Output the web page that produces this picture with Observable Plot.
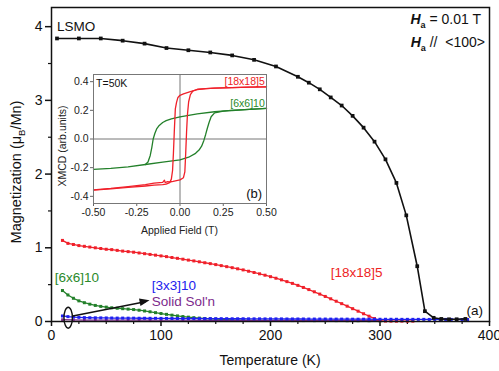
<!DOCTYPE html>
<html><head><meta charset="utf-8">
<script src="https://cdn.jsdelivr.net/npm/d3@7"></script>
<script src="https://cdn.jsdelivr.net/npm/@observablehq/plot@0.6"></script>
<style>
body{margin:0;background:#fff;}
#wrap{position:relative;width:499px;height:371px;}
#wrap svg{position:absolute;left:0;top:0;}
</style></head><body><div id="wrap"></div>
<script>
const FONT = '"Liberation Sans", Arial, Helvetica, sans-serif';

// ---- main panel (a): magnetization vs temperature ----
const xMajor = [0, 100, 200, 300, 400];
const xMinor = [25, 50, 75, 125, 150, 175, 225, 250, 275, 325, 350, 375];
const yMajor = [0, 1, 2, 3, 4];
const yMinor = [0.5, 1.5, 2.5, 3.5];

const lsmo = [[5,3.84],[25,3.84],[45,3.84],[65,3.81],[85,3.77],[105,3.71],[125,3.68],[145,3.65],[165,3.61],[185,3.55],[205,3.46],[225,3.32],[235,3.24],[245,3.15],[255,3.04],[265,2.93],[275,2.79],[285,2.63],[295,2.44],[305,2.20],[315,1.88],[324,1.44],[334,0.75],[341,0.14],[349,0.05],[356,0.035],[363,0.03],[370,0.03],[378,0.035]];

const red18 = [[10,1.10],[15,1.06],[20,1.045],[25,1.03],[30,1.02],[35,1.01],[40,1.00],[45,0.99],[50,0.98],[55,0.975],[60,0.965],[65,0.955],[70,0.948],[75,0.94],[80,0.93],[85,0.92],[90,0.91],[95,0.90],[100,0.89],[105,0.88],[110,0.868],[115,0.857],[120,0.845],[125,0.833],[130,0.822],[135,0.81],[140,0.797],[145,0.785],[150,0.772],[155,0.758],[160,0.744],[165,0.73],[170,0.715],[175,0.70],[180,0.682],[185,0.665],[190,0.647],[195,0.628],[200,0.608],[205,0.587],[210,0.565],[215,0.541],[220,0.517],[225,0.49],[230,0.462],[235,0.433],[240,0.403],[245,0.372],[250,0.34],[255,0.308],[260,0.275],[265,0.242],[270,0.208],[275,0.174],[280,0.14],[285,0.105],[290,0.072],[295,0.04],[300,0.012],[305,0.006],[310,0.005],[315,0.004],[320,0.005],[325,0.004],[330,0.005]];

const green6 = [[10,0.42],[15,0.36],[20,0.315],[25,0.28],[30,0.255],[35,0.235],[40,0.218],[45,0.205],[50,0.195],[55,0.186],[60,0.18],[65,0.174],[70,0.168],[75,0.162],[80,0.153],[85,0.143],[90,0.132],[95,0.12],[100,0.108],[105,0.097],[110,0.086],[115,0.076],[120,0.067],[125,0.059],[130,0.052],[135,0.046],[140,0.041],[145,0.036],[150,0.032],[155,0.028],[160,0.025],[165,0.022],[170,0.02],[175,0.018],[180,0.016],[190,0.015],[200,0.014],[210,0.014],[220,0.013],[230,0.013],[240,0.012],[250,0.012],[260,0.012],[270,0.011],[280,0.011],[290,0.011],[300,0.01]];

const blue3 = [[10,0.075],[15,0.066],[20,0.06],[25,0.056],[30,0.053],[35,0.051],[40,0.05],[45,0.049],[50,0.048],[55,0.047],[60,0.046],[65,0.046],[70,0.045],[75,0.045],[80,0.044],[85,0.044],[90,0.043],[95,0.043],[100,0.042],[105,0.042],[110,0.041],[115,0.041],[120,0.04],[125,0.04],[130,0.04],[135,0.039],[140,0.039],[145,0.039],[150,0.038],[155,0.038],[160,0.038],[165,0.037],[170,0.037],[175,0.037],[180,0.036],[185,0.036],[190,0.036],[195,0.035],[200,0.035],[205,0.035],[210,0.035],[215,0.034],[220,0.034],[225,0.034],[230,0.034],[235,0.033],[240,0.033],[245,0.033],[250,0.033],[255,0.032],[260,0.032],[265,0.032],[270,0.032],[275,0.031],[280,0.031],[285,0.031],[290,0.031],[295,0.03],[300,0.03],[305,0.03],[310,0.03],[315,0.03],[320,0.029],[325,0.029],[330,0.029],[335,0.029],[340,0.029],[345,0.028],[350,0.028],[355,0.028],[360,0.028],[365,0.028],[370,0.028],[375,0.027],[380,0.027]];

const solidSol = [[10,0.025],[20,0.022],[30,0.02],[40,0.02],[50,0.019],[60,0.019],[70,0.018],[80,0.018],[90,0.018],[100,0.017],[120,0.017],[140,0.016],[160,0.016],[180,0.015],[200,0.015],[220,0.015],[240,0.014],[260,0.014],[280,0.014],[300,0.013]];

const mainLabels = [
  {T: 5, M: 4.0, text: "LSMO", color: "#111", anchor: "start", size: 13.5},
  {T: 3, M: 0.60, text: "[6x6]10", color: "#2b8a2b", anchor: "start", size: 13.5},
  {T: 91.5, M: 0.49, text: "[3x3]10", color: "#2222ee", anchor: "start", size: 13.5},
  {T: 91.5, M: 0.265, text: "Solid Sol'n", color: "#7d2a8c", anchor: "start", size: 13.5},
  {T: 255, M: 0.66, text: "[18x18]5", color: "#ee2424", anchor: "start", size: 13.5},
  {T: 379, M: 0.15, text: "(a)", color: "#111", anchor: "start", size: 13.5}
];
const arrowPts = [{x1: 19.5, y1: 0.075, x2: 90, y2: 0.28}];
const ellipsePt = {T: 15.7, M: 0.045};

// ---- inset (b): XMCD hysteresis at T=50K ----
const fieldTicks = [-0.5, -0.25, 0, 0.25, 0.5];
const xmcdTicks = [-0.4, -0.2, 0, 0.2, 0.4];

const redUp = [[-0.5,-0.355],[-0.4,-0.345],[-0.3,-0.332],[-0.2,-0.318],[-0.15,-0.308],[-0.1,-0.302],[-0.09,-0.287],[-0.085,-0.305],[-0.075,-0.298],[-0.06,-0.3],[-0.04,-0.296],[-0.02,-0.29],[0,-0.285],[0.02,-0.27],[0.028,-0.23],[0.033,-0.1],[0.038,0.05],[0.043,0.17],[0.05,0.26],[0.06,0.31],[0.075,0.335],[0.1,0.347],[0.15,0.352],[0.2,0.355],[0.3,0.358],[0.4,0.362],[0.5,0.364]];
const redDown = [[0.5,0.364],[0.4,0.362],[0.3,0.358],[0.2,0.355],[0.15,0.352],[0.1,0.345],[0.06,0.33],[0.02,0.315],[0,0.305],[-0.012,0.29],[-0.02,0.255],[-0.027,0.21],[-0.033,0.05],[-0.038,-0.1],[-0.043,-0.22],[-0.05,-0.28],[-0.06,-0.305],[-0.08,-0.315],[-0.1,-0.318],[-0.15,-0.322],[-0.2,-0.328],[-0.3,-0.338],[-0.4,-0.348],[-0.5,-0.357]];
const greenUp = [[-0.5,-0.212],[-0.4,-0.205],[-0.3,-0.195],[-0.2,-0.178],[-0.1,-0.162],[0,-0.145],[0.05,-0.127],[0.09,-0.1],[0.11,-0.077],[0.125,-0.05],[0.138,-0.01],[0.148,0.03],[0.158,0.075],[0.168,0.115],[0.18,0.155],[0.2,0.182],[0.25,0.194],[0.3,0.199],[0.4,0.206],[0.5,0.213]];
const greenDown = [[0.5,0.213],[0.4,0.207],[0.3,0.2],[0.2,0.19],[0.1,0.175],[0,0.155],[-0.05,0.14],[-0.08,0.128],[-0.1,0.115],[-0.12,0.095],[-0.135,0.07],[-0.145,0.04],[-0.155,0.0],[-0.163,-0.06],[-0.172,-0.115],[-0.185,-0.16],[-0.2,-0.178]];

const insetLabels = [
  {H: -0.485, X: 0.385, text: "T=50K", color: "#111", anchor: "start", size: 10.5},
  {H: 0.49, X: 0.40, text: "[18x18]5", color: "#ee2424", anchor: "end", size: 10.5},
  {H: 0.49, X: 0.25, text: "[6x6]10", color: "#2b8a2b", anchor: "end", size: 10.5},
  {H: 0.475, X: -0.385, text: "(b)", color: "#111", anchor: "end", size: 13}
];

const toTM = a => a.map(([T, M]) => ({T, M}));
const toHX = (a, b) => a.map(([H, X]) => ({H, X, b}));

function series(arr, color, r, sw) {
  const d = toTM(arr);
  return [
    Plot.line(d, {x: "T", y: "M", stroke: color, strokeWidth: sw}),
    Plot.dot(d, {x: "T", y: "M", symbol: "square", r, fill: color, stroke: "none"})
  ];
}

const main = Plot.plot({
  width: 499, height: 371,
  marginLeft: 51, marginRight: 10, marginTop: 7, marginBottom: 50,
  style: {fontFamily: FONT, fontSize: "14px", color: "#111", background: "transparent"},
  x: {domain: [0, 400]},
  y: {domain: [0, 4.26]},
  marks: [
    Plot.axisX({ticks: xMajor, tickSize: 5, tickPadding: 4, fontSize: 14, tickFormat: d => String(d), label: null, strokeWidth: 1.5}),
    Plot.axisX({ticks: xMinor, tickSize: 3, text: null, label: null, strokeWidth: 1.2}),
    Plot.axisY({ticks: yMajor, tickSize: 6, tickPadding: 3, fontSize: 14, tickFormat: d => String(d), label: null, strokeWidth: 1.5}),
    Plot.axisY({ticks: yMinor, tickSize: 3, text: null, label: null, strokeWidth: 1.2}),
    ...series(green6, "#23802a", 1.7, 1.3),
    ...series(solidSol, "#7d2a8c", 1.5, 1.2),
    ...series(red18, "#f0202a", 1.7, 1.3),
    ...series(blue3, "#2020f0", 1.7, 1.3),
    ...series(lsmo, "#111", 2.1, 1.6),
    Plot.frame({stroke: "#111", strokeWidth: 1.5}),
    ...mainLabels.map(l => Plot.text([l], {x: "T", y: "M", text: "text", fill: l.color, textAnchor: l.anchor, fontSize: l.size})),
    Plot.arrow(arrowPts, {x1: "x1", y1: "y1", x2: "x2", y2: "y2", stroke: "#111", strokeWidth: 1.5, headLength: 0, insetEnd: 5})
  ]
});

const inset = Plot.plot({
  width: 499, height: 371,
  marginLeft: 93, marginRight: 233, marginTop: 74, marginBottom: 168,
  style: {fontFamily: FONT, fontSize: "10.5px", color: "#222", background: "transparent"},
  x: {domain: [-0.5, 0.5]},
  y: {domain: [-0.45, 0.45]},
  marks: [
    Plot.frame({fill: "white", stroke: null}),
    Plot.axisX({ticks: fieldTicks, tickSize: 3, tickPadding: 2, tickFormat: d => d.toFixed(2), label: null, stroke: "#666"}),
    Plot.axisY({ticks: xmcdTicks, tickSize: 3, tickPadding: 2, tickFormat: d => d.toFixed(1), label: null, stroke: "#666"}),
    Plot.ruleX([0], {stroke: "#777", strokeWidth: 1}),
    Plot.ruleY([0], {stroke: "#777", strokeWidth: 1}),
    Plot.line(toHX(greenUp, "u").concat(toHX(greenDown, "d")), {x: "H", y: "X", z: "b", stroke: "#23802a", strokeWidth: 1.3}),
    Plot.line(toHX(redUp, "u").concat(toHX(redDown, "d")), {x: "H", y: "X", z: "b", stroke: "#f0202a", strokeWidth: 1.3}),
    Plot.frame({stroke: "#777", strokeWidth: 1}),
    ...insetLabels.map(l => Plot.text([l], {x: "H", y: "X", text: "text", fill: l.color, textAnchor: l.anchor, fontSize: l.size}))
  ]
});

const wrap = document.getElementById("wrap");
wrap.appendChild(main);
wrap.appendChild(inset);

// axis titles, rich-text annotations (subscripts), arrow head and the ellipse marker
const sx = main.scale("x"), sy = main.scale("y");
const svg = d3.select(main);
svg.append("ellipse")
  .attr("cx", sx.apply(ellipsePt.T)).attr("cy", sy.apply(ellipsePt.M))
  .attr("rx", 4.2).attr("ry", 10.5)
  .attr("fill", "none").attr("stroke", "#111").attr("stroke-width", 1.4);

{
  const a = arrowPts[0];
  const px1 = sx.apply(a.x1), py1 = sy.apply(a.y1), px2 = sx.apply(a.x2), py2 = sy.apply(a.y2);
  const ang = Math.atan2(py2 - py1, px2 - px1);
  const L = 10, W = 3.8;
  const bx = px2 - L * Math.cos(ang), by = py2 - L * Math.sin(ang);
  const nx = -Math.sin(ang) * W, ny = Math.cos(ang) * W;
  svg.append("path")
    .attr("d", `M${px2},${py2}L${bx + nx},${by + ny}L${bx - nx},${by - ny}Z`)
    .attr("fill", "#111");
}

svg.append("text").attr("x", 270).attr("y", 365).attr("text-anchor", "middle")
  .attr("font-family", FONT).attr("font-size", 14).attr("fill", "#111").text("Temperature (K)");

const yl = svg.append("text").attr("transform", "translate(21,172) rotate(-90)")
  .attr("text-anchor", "middle").attr("font-family", FONT).attr("font-size", 14.5).attr("fill", "#111");
yl.append("tspan").text("Magnetization (μ");
yl.append("tspan").attr("font-size", 9.5).attr("dy", 4).text("B");
yl.append("tspan").attr("dy", -4).text("/Mn)");

function hLine(x, y, rest) {
  const t = svg.append("text").attr("x", x).attr("y", y).attr("text-anchor", "end")
    .attr("font-family", FONT).attr("font-size", 14).attr("fill", "#111");
  t.append("tspan").attr("font-weight", "bold").attr("font-style", "italic").text("H");
  t.append("tspan").attr("font-size", 9).attr("font-weight", "bold").attr("dy", 4).text("a");
  t.append("tspan").attr("dy", -4).text(rest);
}
hLine(481, 23.5, " = 0.01 T");
hLine(485, 47, " //  <100>");

const isvg = d3.select(inset);
isvg.append("text").attr("x", 179.5).attr("y", 234).attr("text-anchor", "middle")
  .attr("font-family", FONT).attr("font-size", 10.5).attr("fill", "#222").text("Applied Field (T)");
isvg.append("text").attr("transform", "translate(66,146) rotate(-90)").attr("text-anchor", "middle")
  .attr("font-family", FONT).attr("font-size", 10.5).attr("fill", "#222").text("XMCD (arb.units)");
</script>
</body></html>
